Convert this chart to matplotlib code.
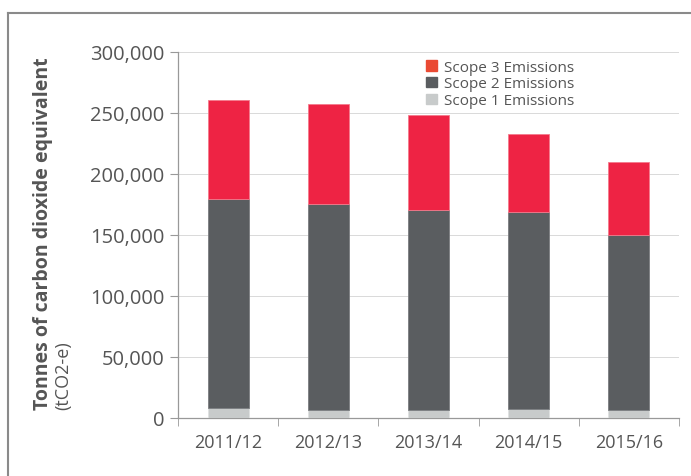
import matplotlib
matplotlib.use('Agg')
import matplotlib.pyplot as plt
import numpy as np
from matplotlib.lines import Line2D
from matplotlib.patches import Patch

years = ['2011/12', '2012/13', '2013/14', '2014/15', '2015/16']
scope1 = [8200, 6800, 6700, 7400, 6700]
scope2 = [171000, 168500, 163800, 161400, 143500]
scope3 = [81500, 81800, 78000, 64000, 59500]

c_scope1 = '#c8cbcb'
c_scope2 = '#5a5d60'
c_scope3 = '#ee2344'
c_legend3 = '#ea4a33'
txt = '#555555'

plt.rcParams['font.family'] = ['Open Sans', 'DejaVu Sans']

fig = plt.figure(figsize=(6.91, 4.77), dpi=100)
ax = fig.add_axes([178 / 691, 1 - 419 / 477, 501 / 691, 366 / 477])

x = np.arange(len(years))
w = 0.41
s1 = np.array(scope1)
s2 = np.array(scope2)
s3 = np.array(scope3)
ax.bar(x, s1, w, color=c_scope1, edgecolor='#dfe1e1', linewidth=0.6, zorder=3)
ax.bar(x, s2, w, bottom=s1, color=c_scope2, edgecolor='#7a7d80', linewidth=0.6, zorder=3)
ax.bar(x, s3, w, bottom=s1 + s2, color=c_scope3, edgecolor='#f47a8c', linewidth=0.6, zorder=3)

ax.set_xlim(-0.5, len(years) - 0.5)
ax.set_ylim(0, 300000)
ax.set_yticks(np.arange(0, 300001, 50000))
ax.set_yticklabels([f'{v:,}' for v in range(0, 300001, 50000)])
ax.set_xticks(x)
ax.set_xticklabels(years)
ax.set_xticks(np.arange(-0.5, len(years)), minor=True)
ax.tick_params(axis='x', which='major', length=0, pad=11, labelsize=13, labelcolor=txt)
ax.tick_params(axis='x', which='minor', length=6, color='#999999', direction='out')
ax.tick_params(axis='y', length=6, color='#999999', pad=4, labelsize=14.5, labelcolor=txt)
ax.grid(axis='y', color='#d9d9d9', linewidth=0.7, zorder=0)

for side in ['top', 'right']:
    ax.spines[side].set_visible(False)
for side in ['left', 'bottom']:
    ax.spines[side].set_color('#999999')
    ax.spines[side].set_linewidth(0.9)

handles = [Patch(color=c_legend3, label='Scope 3 Emissions'),
           Patch(color=c_scope2, label='Scope 2 Emissions'),
           Patch(color=c_scope1, label='Scope 1 Emissions')]
leg = ax.legend(handles=handles, loc='upper left', bbox_to_anchor=(0.48, 1.0),
                frameon=False, fontsize=11, handlelength=0.7, handleheight=0.7,
                handletextpad=0.5, labelspacing=0.12, borderaxespad=0.1)
for t in leg.get_texts():
    t.set_color(txt)

fig.text(43 / 691, 1 - 410 / 477, 'Tonnes of carbon dioxide equivalent', rotation=90,
         ha='center', va='bottom', fontsize=14, fontweight='bold', color=txt)
fig.text(63 / 691, 1 - 410 / 477, '(tCO2-e)', rotation=90,
         ha='center', va='bottom', fontsize=13, color=txt)

# page frame
fig.add_artist(Line2D([8 / 691, 1], [1 - 14 / 477, 1 - 14 / 477], color='#8a8a8a', linewidth=1.5,
                      transform=fig.transFigure))
fig.add_artist(Line2D([8 / 691, 8 / 691], [0, 1 - 14 / 477], color='#8a8a8a', linewidth=1.5,
                      transform=fig.transFigure))

fig.savefig('out.png', dpi=100)
